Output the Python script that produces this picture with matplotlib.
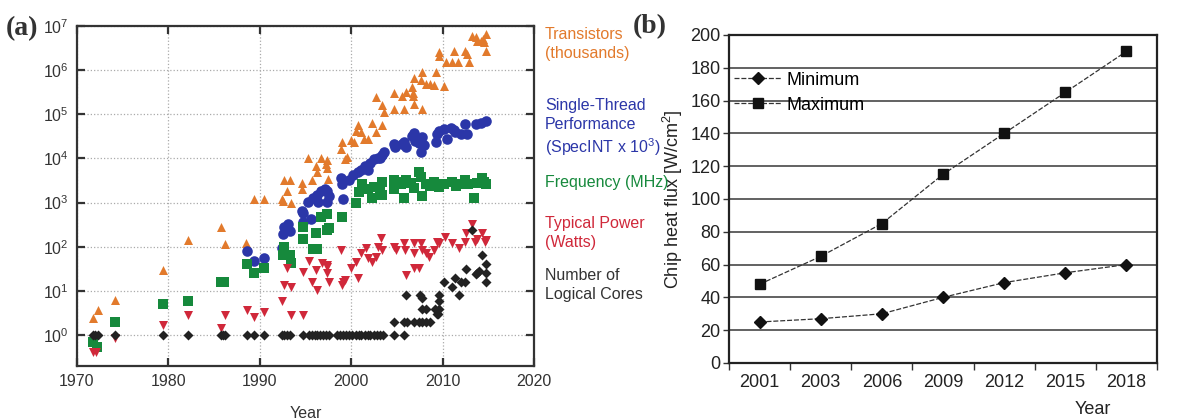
import matplotlib
matplotlib.use("Agg")
import matplotlib.pyplot as plt
import numpy as np

plt.rcParams['font.family'] = ['Liberation Sans', 'DejaVu Sans']
plt.rcParams['mathtext.fontset'] = 'custom'
plt.rcParams['mathtext.rm'] = 'Liberation Sans'
plt.rcParams['mathtext.it'] = 'Liberation Sans:italic'

# ---------------- panel (a): microprocessor trend data ----------------
transistor_years = [1971.7, 1972.3, 1974.2, 1979.4, 1982.2, 1985.8, 1986.2, 1988.5, 1989.4, 1990.5,
                    1992.4, 1992.5, 1992.7, 1993.0, 1993.3, 1993.4, 1994.6, 1994.6, 1995.3, 1995.7,
                    1996.2, 1996.3, 1996.7, 1997.2, 1997.3, 1997.3, 1997.5, 1998.9, 1999.0, 1999.3,
                    1999.5, 2000.0, 2000.3, 2000.5, 2000.7, 2001.1, 2001.4, 2001.8, 2002.3, 2002.7,
                    2002.7, 2003.4, 2003.4, 2003.6, 2004.7, 2004.7, 2005.6, 2005.8, 2006.0, 2006.7,
                    2006.8, 2006.8, 2006.9, 2006.9, 2007.8, 2007.8, 2007.6, 2008.2, 2008.6, 2009.1,
                    2009.3, 2010.1, 2009.6, 2009.6, 2010.4, 2011.0, 2011.3, 2011.7, 2012.4, 2012.7,
                    2012.9, 2013.2, 2013.6, 2013.8, 2014.2, 2014.5, 2014.8, 2014.8, 2014.4]
transistor_vals = [2.4, 3.7, 6.3, 30, 145, 280, 117, 125, 1200, 1200,
                   1200, 1100, 3200, 1800, 3200, 1000, 2800, 2000, 10500, 3200,
                   6600, 5000, 10000, 7500, 9000, 6000, 3500, 16000, 24000, 9500,
                   11000, 26000, 24000, 41000, 56000, 39000, 28000, 27000, 63000, 245000,
                   40000, 160000, 56000, 110000, 300000, 130000, 260000, 130000, 320000, 410000,
                   300000, 260000, 660000, 170000, 900000, 130000, 600000, 480000, 480000, 460000,
                   900000, 440000, 2600000, 2100000, 1500000, 1500000, 2700000, 1500000, 2700000, 2300000,
                   1500000, 5900000, 5500000, 4600000, 4600000, 4300000, 6600000, 2700000, 5000000]

perf_years = [1988.6, 1989.4, 1990.5, 1992.4, 1992.5, 1992.6, 1992.9, 1993.1, 1993.3, 1994.6,
              1994.7, 1994.7, 1995.3, 1995.6, 1995.8, 1996.3, 1996.4, 1996.7, 1997.1, 1997.3,
              1997.4, 1997.6, 1998.9, 1999.0, 1999.1, 1999.8, 2000.2, 2000.7, 2001.1, 2001.5,
              2001.8, 2002.1, 2002.5, 2002.9, 2003.2, 2003.4, 2003.6, 2004.7, 2004.8, 2005.6,
              2005.8, 2006.0, 2006.7, 2006.9, 2007.0, 2007.4, 2007.6, 2007.8, 2008.0, 2009.3,
              2009.4, 2009.6, 2010.2, 2010.5, 2010.9, 2011.2, 2011.4, 2012.0, 2012.4, 2012.7,
              2013.6, 2014.2, 2014.8]
perf_vals = [81, 48, 56, 95, 190, 280, 270, 320, 230, 630,
             370, 590, 1050, 420, 1300, 1500, 1050, 1800, 2000, 1050,
             1800, 1400, 3700, 2700, 1200, 3300, 4300, 5000, 5600, 6600,
             5600, 8000, 9500, 10500, 10000, 12000, 14000, 21000, 18000, 21000,
             23000, 18000, 32000, 38000, 25000, 22000, 14000, 30000, 20000, 23000,
             35000, 42000, 46000, 27000, 50000, 45000, 40000, 36000, 59000, 35000,
             59000, 63000, 69000]

freq_years = [1971.7, 1972.2, 1974.2, 1979.4, 1982.2, 1985.8, 1986.1, 1988.6, 1989.4, 1990.5,
              1992.5, 1992.6, 1993.3, 1993.4, 1994.7, 1994.7, 1995.8, 1996.3, 1996.1, 1996.7,
              1997.4, 1997.3, 1997.6, 1999.0, 2000.5, 2000.9, 2001.2, 2001.6, 2001.8, 2002.3,
              2002.5, 2003.1, 2003.4, 2003.4, 2004.7, 2004.7, 2004.9, 2005.5, 2005.8, 2006.0,
              2006.5, 2006.9, 2007.4, 2007.6, 2007.8, 2008.2, 2008.6, 2009.1, 2009.6, 2010.2,
              2011.0, 2011.5, 2011.8, 2012.5, 2012.8, 2013.4, 2013.8, 2014.3, 2014.8, 2014.5]
freq_vals = [0.7, 0.53, 2, 5, 6, 16, 16, 41, 26, 33,
             66, 100, 66, 44, 150, 280, 90, 90, 210, 480,
             240, 540, 270, 480, 1000, 1700, 2600, 2000, 2000, 1300,
             2300, 2200, 3000, 1500, 3300, 2000, 3000, 2600, 1300, 3300,
             2800, 2200, 5000, 3800, 1400, 2600, 2400, 3000, 2300, 2600,
             3000, 2400, 2600, 3300, 2600, 1300, 2800, 3700, 2600, 3000]

power_years = [1971.7, 1972.1, 1974.2, 1979.4, 1982.2, 1985.8, 1986.2, 1988.6, 1989.4, 1990.5,
               1992.4, 1992.6, 1993.0, 1993.4, 1993.4, 1994.7, 1994.7, 1995.4, 1995.7, 1996.2,
               1996.3, 1996.8, 1997.3, 1997.4, 1997.6, 1997.3, 1998.9, 1999.0, 1999.1, 1999.3,
               2000.0, 2000.5, 2000.7, 2001.1, 2001.6, 2001.8, 2002.3, 2002.7, 2002.9, 2003.3,
               2003.4, 2004.7, 2004.9, 2005.8, 2005.9, 2006.0, 2006.9, 2006.9, 2006.9, 2007.4,
               2007.6, 2007.8, 2008.2, 2008.5, 2009.1, 2009.4, 2009.6, 2010.3, 2011.0, 2011.8,
               2012.4, 2012.6, 2013.2, 2013.5, 2013.8, 2014.3, 2014.6, 2014.8]
power_vals = [0.41, 0.41, 0.85, 1.7, 2.8, 1.45, 2.8, 3.7, 2.6, 3.3,
              5.9, 14, 33, 12, 2.8, 27, 2.8, 48, 16, 30,
              10.5, 43, 26, 35, 16, 39, 85, 14, 16, 18,
              33, 45, 20, 73, 95, 57, 45, 60, 100, 160,
              85, 100, 85, 120, 85, 23, 120, 73, 33, 33,
              120, 85, 73, 60, 85, 130, 120, 170, 120, 95,
              130, 210, 320, 130, 150, 210, 130, 145]

core_years = [1971.7, 1972.0, 1972.3, 1974.2, 1979.4, 1982.2, 1985.8, 1986.0, 1986.2, 1988.6,
              1989.4, 1990.5, 1992.4, 1992.7, 1993.0, 1993.3, 1994.7, 1995.4, 1995.7, 1996.0,
              1996.3, 1996.6, 1996.9, 1997.2, 1997.6, 1998.4, 1998.8, 1999.1, 1999.4, 1999.8,
              2000.1, 2000.5, 2000.8, 2001.1, 2001.5, 2001.8, 2002.1, 2002.5, 2002.8, 2003.2,
              2003.5, 2004.7, 2005.8,
              2004.7, 2005.8, 2006.1, 2006.9, 2007.4, 2007.8, 2008.2, 2008.6,
              2006.0, 2007.5, 2007.8, 2007.7, 2008.2, 2009.2, 2009.4, 2009.5, 2009.6, 2009.6, 2009.6,
              2010.2, 2011.0, 2011.4, 2011.8, 2012.0, 2012.4, 2012.6, 2013.2, 2013.6, 2013.8, 2014.0,
              2014.3, 2014.8, 2014.8, 2014.8]
core_vals = [1] * 43 + \
            [2, 2, 2, 2, 2, 2, 2, 2,
             8, 8, 7, 4, 4, 4, 3, 3, 4, 6, 8,
             16, 12, 20, 8, 16, 16, 32, 240, 24, 26, 28,
             64, 40, 26, 16]

# ---------------- panel (b): chip heat flux ----------------
flux_years = ['2001', '2003', '2006', '2009', '2012', '2015', '2018']
flux_min = [25, 27, 30, 40, 49, 55, 60]
flux_max = [48, 65, 85, 115, 140, 165, 190]

c_orange = '#e27a2c'
c_blue = '#2b36a8'
c_green = '#16893c'
c_red = '#d0283a'
c_black = '#222222'

fig = plt.figure(figsize=(11.77, 4.19), dpi=100)
ax1 = fig.add_axes([0.0654, 0.1265, 0.3883, 0.8115])
ax2 = fig.add_axes([0.6194, 0.1337, 0.3636, 0.7828])

######################################
# panel (a)
######################################
ax1.scatter(transistor_years, transistor_vals, marker='^', s=42, color=c_orange, linewidths=0, zorder=3)
ax1.scatter(perf_years, perf_vals, marker='o', s=58, color=c_blue, linewidths=0, zorder=3)
ax1.scatter(freq_years, freq_vals, marker='s', s=52, color=c_green, linewidths=0, zorder=3)
ax1.scatter(power_years, power_vals, marker='v', s=42, color=c_red, linewidths=0, zorder=3)
ax1.scatter(core_years, core_vals, marker='D', s=26, color=c_black, linewidths=0, zorder=4)

ax1.set_yscale('log')
ax1.set_xlim(1970, 2020)
ax1.set_ylim(0.2, 1e7)
ax1.set_xticks(np.arange(1970, 2021, 10))
ax1.set_yticks([10.0 ** k for k in range(0, 8)])
ax1.yaxis.set_minor_locator(matplotlib.ticker.NullLocator())
ax1.tick_params(direction='in', top=True, right=True, length=6, width=1.6,
                color='#333333', labelsize=11.5, labelcolor='#333333', pad=6)
ax1.grid(True, which='major', linestyle=':', color='#aaaaaa', linewidth=0.9)
for sp in ax1.spines.values():
    sp.set_linewidth(1.6)
    sp.set_color('#333333')
ax1.set_xlabel('Year', fontsize=11.5, color='#333333', labelpad=12)

# series labels on the right of panel (a)
lx = 545 / 1177
fig.text(lx, 1 - 27 / 419, 'Transistors\n(thousands)', color=c_orange, fontsize=11.5,
         va='top', ha='left', linespacing=1.3)
fig.text(lx, 1 - 98 / 419, 'Single-Thread\nPerformance\n(SpecINT x 10$^3$)', color=c_blue,
         fontsize=11.5, va='top', ha='left', linespacing=1.3)
fig.text(lx, 1 - 182 / 419, 'Frequency (MHz)', color=c_green, fontsize=11.5, va='center', ha='left')
fig.text(lx, 1 - 216 / 419, 'Typical Power\n(Watts)', color=c_red, fontsize=11.5,
         va='top', ha='left', linespacing=1.3)
fig.text(lx, 1 - 268 / 419, 'Number of\nLogical Cores', color='#333333', fontsize=11.5,
         va='top', ha='left', linespacing=1.3)

######################################
# panel (b)
######################################
pos = np.arange(len(flux_years)) + 0.5
ax2.plot(pos, flux_min, linestyle=(0, (4, 1.5)), color='#333333', linewidth=0.9,
         marker='D', markersize=6, markerfacecolor='#111111', markeredgecolor='#111111',
         label='Minimum', zorder=3)
ax2.plot(pos, flux_max, linestyle=(0, (4, 1.5)), color='#333333', linewidth=0.9,
         marker='s', markersize=7, markerfacecolor='#111111', markeredgecolor='#111111',
         label='Maximum', zorder=3)

ax2.set_xlim(0, len(flux_years))
ax2.set_ylim(0, 200)
ax2.set_yticks(np.arange(0, 201, 20))
ax2.set_xticks(np.arange(0, len(flux_years) + 1))
ax2.set_xticklabels([])
ax2.set_xticks(pos, minor=True)
ax2.set_xticklabels(flux_years, minor=True)
ax2.tick_params(axis='x', which='major', direction='out', length=5, width=1, color='#333333')
ax2.tick_params(axis='x', which='minor', length=0, labelsize=13, pad=8, labelcolor='#222222')
ax2.tick_params(axis='y', direction='out', length=4, width=1, labelsize=13, pad=2,
                labelcolor='#222222', color='#333333')
ax2.yaxis.grid(True, color='#555555', linewidth=1.3)
ax2.set_axisbelow(True)
for sp in ax2.spines.values():
    sp.set_linewidth(1.6)
    sp.set_color('#222222')

ax2.set_ylabel('Chip heat flux [W/cm$^2$]', fontsize=13, color='#222222', labelpad=4)
ax2.set_xlabel('Year', fontsize=13, color='#222222')
ax2.xaxis.set_label_coords(0.85, -0.115)

leg = ax2.legend(loc='upper left', bbox_to_anchor=(0.0, 0.905), frameon=False, fontsize=13,
                 handlelength=2.6, handletextpad=0.3, labelspacing=0.45,
                 borderaxespad=0.0, borderpad=0.3)

# panel letters
fig.text(6 / 1177, 1 - 29 / 419, '(a)', fontsize=20, fontweight='bold',
         family=['Liberation Serif', 'DejaVu Serif'], color='#333333', va='center', ha='left')
fig.text(633 / 1177, 1 - 27 / 419, '(b)', fontsize=20, fontweight='bold',
         family=['Liberation Serif', 'DejaVu Serif'], color='#333333', va='center', ha='left')

fig.savefig('out.png', dpi=100)
